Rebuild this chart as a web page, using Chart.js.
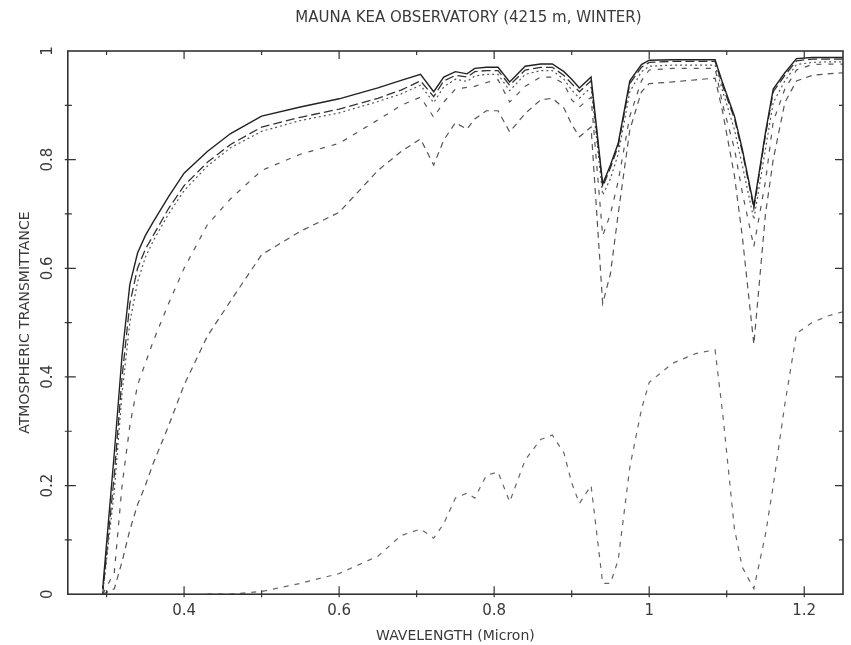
<!DOCTYPE html>
<html>
<head>
<meta charset="utf-8">
<script src="https://cdn.jsdelivr.net/npm/chart.js@4.4.0/dist/chart.umd.min.js"></script>
<style>
  body { margin: 0; background: #fff; }
</style>
</head>
<body>
<canvas id="transChart" width="851" height="645"></canvas>
<script>
// wavelength grid (micron), shared by all curves
const wavelength = [0.295,0.31,0.32,0.33,0.34,0.35,0.36,0.38,0.40,0.43,0.46,0.50,0.55,0.60,0.65,0.68,
  0.705,0.722,0.735,0.75,0.765,0.775,0.79,0.805,0.82,0.84,0.86,0.875,0.89,0.90,0.91,0.925,
  0.94,0.95,0.96,0.975,0.99,1.00,1.03,1.06,1.085,1.095,1.11,1.12,1.135,1.15,1.16,1.175,1.19,1.21,1.23,1.25];

// transmittance, one array per curve
const solidCurve = [0.01,0.26,0.44,0.57,0.628,0.66,0.685,0.732,0.775,0.815,0.848,0.88,0.897,0.912,0.932,0.946,
  0.957,0.925,0.952,0.962,0.958,0.968,0.97,0.97,0.943,0.972,0.976,0.976,0.962,0.948,0.932,0.952,
  0.755,0.79,0.83,0.945,0.975,0.983,0.984,0.984,0.984,0.94,0.88,0.82,0.715,0.85,0.93,0.96,0.986,0.988,0.988,0.988];
const longDashCurve = [0,0.22,0.40,0.535,0.60,0.635,0.66,0.71,0.752,0.795,0.828,0.86,0.878,0.893,0.913,0.928,
  0.945,0.916,0.945,0.955,0.952,0.962,0.964,0.964,0.937,0.965,0.97,0.97,0.955,0.94,0.925,0.945,
  0.75,0.785,0.825,0.94,0.97,0.979,0.981,0.981,0.981,0.935,0.875,0.815,0.71,0.845,0.925,0.955,0.982,0.985,0.985,0.985];
const dottedCurve = [0,0.19,0.37,0.50,0.575,0.62,0.65,0.70,0.743,0.788,0.822,0.852,0.872,0.886,0.907,0.921,
  0.937,0.905,0.934,0.948,0.944,0.954,0.957,0.957,0.927,0.957,0.964,0.964,0.948,0.928,0.913,0.933,
  0.735,0.765,0.81,0.925,0.962,0.972,0.974,0.974,0.974,0.925,0.855,0.79,0.69,0.82,0.905,0.945,0.975,0.979,0.98,0.98];
const dashMidCurve = [0,0.04,0.20,0.31,0.385,0.425,0.465,0.535,0.60,0.68,0.728,0.78,0.81,0.83,0.873,0.90,
  0.915,0.878,0.906,0.93,0.933,0.935,0.942,0.947,0.906,0.935,0.952,0.952,0.94,0.91,0.897,0.915,
  0.66,0.70,0.76,0.88,0.945,0.965,0.968,0.968,0.968,0.90,0.82,0.74,0.64,0.76,0.87,0.93,0.965,0.975,0.976,0.976];
const dashLowCurve = [0,0.01,0.06,0.118,0.165,0.20,0.24,0.31,0.385,0.475,0.54,0.625,0.668,0.703,0.78,0.815,
  0.838,0.79,0.836,0.868,0.856,0.875,0.89,0.89,0.851,0.885,0.91,0.913,0.895,0.865,0.842,0.86,
  0.535,0.59,0.70,0.855,0.925,0.94,0.943,0.947,0.95,0.886,0.77,0.66,0.46,0.70,0.80,0.905,0.945,0.955,0.958,0.96];
const dashBottomCurve = [null,null,null,null,null,null,null,null,null,0,0,0.005,0.02,0.038,0.07,0.108,
  0.12,0.103,0.13,0.177,0.186,0.177,0.219,0.225,0.17,0.247,0.285,0.293,0.26,0.205,0.167,0.20,
  0.02,0.02,0.063,0.234,0.34,0.39,0.425,0.443,0.45,0.33,0.12,0.05,0.01,0.11,0.20,0.35,0.48,0.50,0.512,0.52];

const xTickVals = [0.4,0.6,0.8,1,1.2];
const xMinorVals = [0.3,0.5,0.7,0.9,1.1];
const yTickVals = [0,0.2,0.4,0.6,0.8,1];
const yMinorVals = [0.1,0.3,0.5,0.7,0.9];

const chartTitle = 'MAUNA KEA OBSERVATORY (4215 m, WINTER)';
const inkColor = '#3a3a3a';
const fontFam = '"DejaVu Sans", sans-serif';

function pts(arr) {
  return wavelength.map((w, i) => ({x: w, y: arr[i]}));
}

// box frame with inward ticks on all four sides, plus title over the plot
const frameTicks = {
  id: 'frameTicks',
  afterDraw(chart) {
    const {ctx, chartArea: a, scales: {x, y}} = chart;
    ctx.save();
    ctx.strokeStyle = '#333';
    ctx.lineWidth = 1.6;
    ctx.strokeRect(a.left, a.top, a.right - a.left, a.bottom - a.top);
    ctx.lineWidth = 1.2;
    ctx.beginPath();
    const xt = (v, len) => {
      const px = x.getPixelForValue(v);
      ctx.moveTo(px, a.bottom + 3); ctx.lineTo(px, a.bottom - len);
      ctx.moveTo(px, a.top); ctx.lineTo(px, a.top + len);
    };
    const yt = (v, len) => {
      const py = y.getPixelForValue(v);
      ctx.moveTo(a.left - 3, py); ctx.lineTo(a.left + len, py);
      ctx.moveTo(a.right, py); ctx.lineTo(a.right - len, py);
    };
    xTickVals.forEach(v => xt(v, 8));
    xMinorVals.forEach(v => xt(v, 4));
    yTickVals.slice(1, -1).forEach(v => yt(v, 8));
    yMinorVals.forEach(v => yt(v, 4));
    ctx.stroke();

    ctx.fillStyle = inkColor;
    ctx.font = '15px ' + fontFam;
    ctx.textAlign = 'center';
    ctx.textBaseline = 'middle';
    ctx.fillText(chartTitle, (a.left + a.right) / 2 + 13, 18);
    ctx.restore();
  }
};

function line(label, arr, dash, color, width) {
  return {
    label: label,
    data: pts(arr),
    borderColor: color,
    borderWidth: width,
    borderDash: dash,
    pointRadius: 0,
    fill: false,
    tension: 0,
    spanGaps: false
  };
}

new Chart(document.getElementById('transChart'), {
  type: 'line',
  data: {
    datasets: [
      line('solid', solidCurve, [], '#222', 1.4),
      line('long dash', longDashCurve, [9, 4], '#333', 1.3),
      line('dotted', dottedCurve, [2, 3], '#555', 1.2),
      line('dash mid', dashMidCurve, [5, 7], '#555', 1.2),
      line('dash low', dashLowCurve, [6, 5], '#555', 1.2),
      line('dash bottom', dashBottomCurve, [5, 6], '#666', 1.2)
    ]
  },
  options: {
    responsive: false,
    animation: false,
    layout: {padding: {top: 51, left: 11, right: 8, bottom: 0}},
    plugins: {
      legend: {display: false},
      tooltip: {enabled: false},
      title: {display: false}
    },
    scales: {
      x: {
        type: 'linear',
        min: 0.25,
        max: 1.25,
        afterBuildTicks: s => { s.ticks = xTickVals.map(v => ({value: v})); },
        grid: {display: false, drawTicks: false},
        border: {display: false},
        ticks: {color: inkColor, font: {family: fontFam, size: 15}, padding: 8,
          callback: v => String(v)},
        title: {display: true, text: 'WAVELENGTH (Micron)', color: inkColor,
          font: {family: fontFam, size: 14}, padding: {top: 0, bottom: 0}}
      },
      y: {
        type: 'linear',
        min: 0,
        max: 1,
        afterBuildTicks: s => { s.ticks = yTickVals.map(v => ({value: v})); },
        grid: {display: false, drawTicks: false},
        border: {display: false},
        ticks: {color: inkColor, font: {family: fontFam, size: 15}, padding: 8,
          minRotation: 90, maxRotation: 90, crossAlign: 'center',
          callback: v => String(v)},
        title: {display: true, text: 'ATMOSPHERIC TRANSMITTANCE', color: inkColor,
          font: {family: fontFam, size: 14}, padding: {top: 6, bottom: 0}}
      }
    }
  },
  plugins: [frameTicks]
});
</script>
</body>
</html>
